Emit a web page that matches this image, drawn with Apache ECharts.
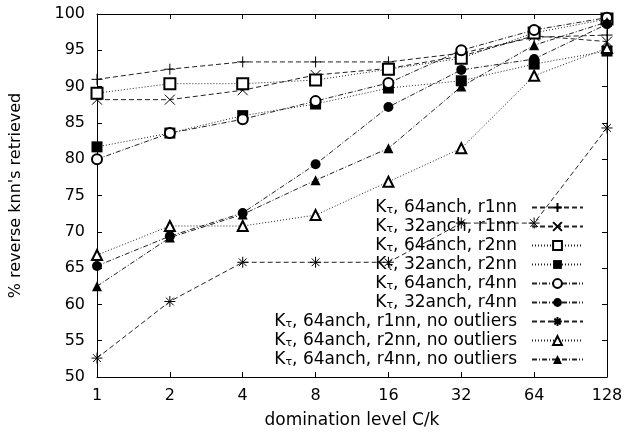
<!DOCTYPE html>
<html>
<head>
<meta charset="utf-8">
<script src="https://cdn.jsdelivr.net/npm/echarts@6/dist/echarts.min.js"></script>
<style>
  html, body { margin: 0; padding: 0; background: #fff; }
  #chart { width: 626px; height: 436px; }
</style>
</head>
<body>
<div id="chart"></div>
<script>
// domination level C/k
const levels = ["1", "2", "4", "8", "16", "32", "64", "128"];

const r1nn64 = [91.0, 92.4, 93.4, 93.4, 93.4, 94.6, 96.8, 97.1];
const r1nn32 = [88.2, 88.2, 89.5, 91.6, 92.5, 94.2, 97.0, 96.2];
const r2nn64 = [89.1, 90.4, 90.4, 90.9, 92.4, 93.9, 97.4, 99.3];
const r2nn32 = [81.7, 83.6, 86.0, 87.6, 89.8, 90.8, 93.1, 94.9];
const r4nn64 = [80.0, 83.6, 85.5, 88.0, 90.5, 95.0, 97.8, 99.5];
const r4nn32 = [65.3, 69.4, 72.6, 79.3, 87.2, 92.3, 93.8, 98.6];
const r1nnNoOut = [52.6, 60.4, 65.8, 65.8, 65.8, 71.2, 71.2, 84.3];
const r2nnNoOut = [66.8, 70.8, 70.8, 72.3, 76.9, 81.5, 91.5, 95.3];
const r4nnNoOut = [62.5, 69.2, 72.4, 77.1, 81.5, 90.0, 95.7, 98.9];

const names = [
  "64anch, r1nn", "32anch, r1nn", "64anch, r2nn", "32anch, r2nn",
  "64anch, r4nn", "32anch, r4nn",
  "64anch, r1nn, no outliers", "64anch, r2nn, no outliers", "64anch, r4nn, no outliers"
];

const dashed = [5, 3];
const dotted = [1, 2];
const dashDot = [5, 2, 1, 2];

const plus = "path://M0,5L10,5M5,0L5,10";
const cross = "path://M0,0L10,10M10,0L0,10";
const star = "path://M0,5L10,5M5,0L5,10M1.5,1.5L8.5,8.5M8.5,1.5L1.5,8.5";

function mk(name, data, dash, symbol, size, kind) {
  let itemStyle;
  if (kind === "stroke") {
    itemStyle = { color: "rgba(0,0,0,0)", borderColor: "#000", borderWidth: 1 };
  } else if (kind === "empty") {
    itemStyle = { color: "#000", borderWidth: 1 };
  } else {
    itemStyle = { color: "#000" };
  }
  return {
    name: "Kτ, " + name,
    type: "line",
    data: data,
    symbol: symbol,
    symbolSize: size,
    showAllSymbol: true,
    itemStyle: itemStyle,
    lineStyle: { color: "#222", width: 1, type: dash },
    animation: false
  };
}

const series = [
  mk(names[0], r1nn64, dashed, plus, 11, "stroke"),
  mk(names[1], r1nn32, dashed, cross, 10, "stroke"),
  mk(names[2], r2nn64, dotted, "emptyRect", 11, "empty"),
  mk(names[3], r2nn32, dotted, "rect", 11, "fill"),
  mk(names[4], r4nn64, dashDot, "emptyCircle", 10, "empty"),
  mk(names[5], r4nn32, dashDot, "circle", 10, "fill"),
  mk(names[6], r1nnNoOut, dashed, star, 11, "stroke"),
  mk(names[7], r2nnNoOut, dotted, "emptyTriangle", 10, "empty"),
  mk(names[8], r4nnNoOut, dashDot, "triangle", 10, "fill")
];

const font = "'DejaVu Sans', sans-serif";
const chart = echarts.init(document.getElementById("chart"), null, { renderer: "canvas" });

chart.setOption({
  backgroundColor: "#fff",
  animation: false,
  textStyle: { fontFamily: font },
  grid: { left: 97, right: 19, top: 14, bottom: 59, containLabel: false },
  legend: {
    orient: "vertical",
    right: 37,
    top: 194,
    align: "right",
    itemWidth: 51,
    itemHeight: 11,
    itemGap: 2,
    selectedMode: false,
    formatter: function (n) {
      return "{k|K}{s|τ}{t|" + n.slice(2) + "}";
    },
    textStyle: {
      color: "#000",
      fontSize: 17,
      lineHeight: 17,
      padding: [0, 10, 0, 0],
      rich: {
        k: { fontSize: 17, color: "#000", fontFamily: font },
        s: { fontSize: 11, color: "#000", fontFamily: font, verticalAlign: "bottom", padding: [8, 0, 0, 0] },
        t: { fontSize: 17, color: "#000", fontFamily: font }
      }
    },
    data: series.map(s => s.name)
  },
  xAxis: [{
    type: "category",
    data: levels,
    boundaryGap: false,
    name: "domination level C/k",
    nameLocation: "middle",
    nameGap: 35,
    nameTextStyle: { fontSize: 17, color: "#000" },
    axisLine: { lineStyle: { color: "#000", width: 1 } },
    axisTick: { inside: true, length: 5, lineStyle: { color: "#000" } },
    axisLabel: { color: "#000", fontSize: 16, margin: 11 },
    splitLine: { show: false }
  }, {
    type: "category",
    data: levels,
    boundaryGap: false,
    position: "top",
    axisLine: { lineStyle: { color: "#000", width: 1 } },
    axisTick: { inside: true, length: 5, lineStyle: { color: "#000" } },
    axisLabel: { show: false },
    splitLine: { show: false }
  }],
  yAxis: [{
    type: "value",
    min: 50,
    max: 100,
    interval: 5,
    name: "% reverse knn's retrieved",
    nameLocation: "middle",
    nameGap: 73,
    nameTextStyle: { fontSize: 16, color: "#000" },
    axisLine: { show: true, lineStyle: { color: "#000", width: 1 } },
    axisTick: { show: true, inside: true, length: 5, lineStyle: { color: "#000" } },
    axisLabel: { color: "#000", fontSize: 16, margin: 12 },
    splitLine: { show: false }
  }, {
    type: "value",
    min: 50,
    max: 100,
    interval: 5,
    position: "right",
    axisLine: { show: true, lineStyle: { color: "#000", width: 1 } },
    axisTick: { show: true, inside: true, length: 5, lineStyle: { color: "#000" } },
    axisLabel: { show: false },
    splitLine: { show: false }
  }],
  series: series
});
</script>
</body>
</html>
